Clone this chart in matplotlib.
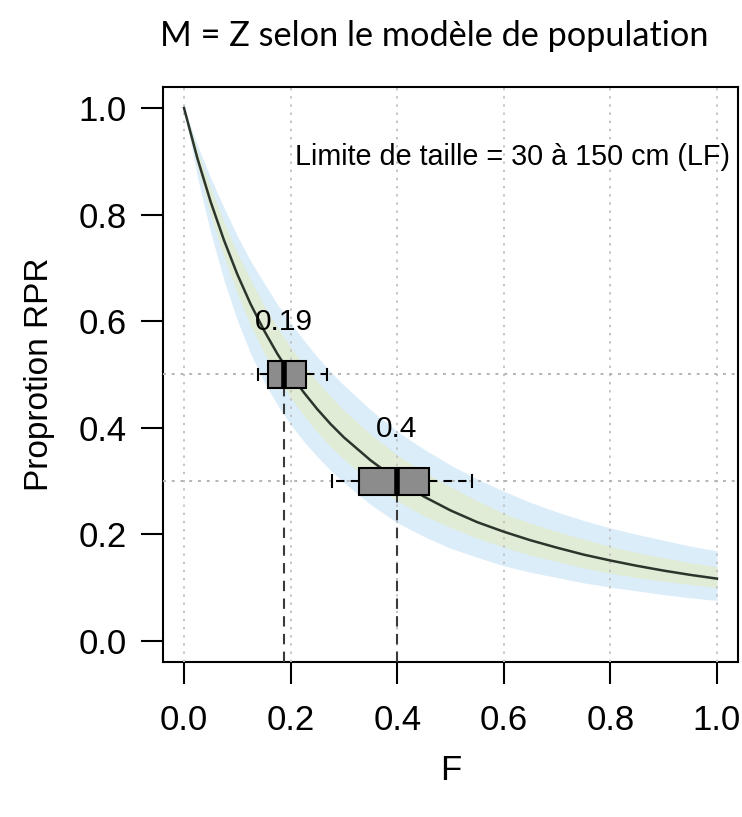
import numpy as np
import matplotlib
matplotlib.use("Agg")
import matplotlib.pyplot as plt

plt.rcParams['font.family'] = ['Liberation Sans', 'DejaVu Sans']

# values
f_vals = [0.000, 0.025, 0.050, 0.075, 0.100, 0.125, 0.150, 0.175, 0.200, 0.225,
          0.250, 0.275, 0.300, 0.35, 0.40, 0.45, 0.50, 0.55, 0.60, 0.65,
          0.70, 0.75, 0.80, 0.85, 0.90, 0.95, 1.00]
rpr_mid = [1.000, 0.906, 0.824, 0.752, 0.688, 0.632, 0.583, 0.539, 0.500, 0.466,
           0.435, 0.407, 0.382, 0.339, 0.302, 0.271, 0.245, 0.223, 0.205, 0.189,
           0.175, 0.162, 0.151, 0.141, 0.132, 0.124, 0.117]
blue_hi = [1.000, 0.931, 0.869, 0.813, 0.760, 0.713, 0.672, 0.632, 0.597, 0.564,
           0.533, 0.505, 0.480, 0.434, 0.393, 0.360, 0.330, 0.304, 0.281, 0.260,
           0.242, 0.226, 0.212, 0.200, 0.189, 0.178, 0.169]
blue_lo = [1.000, 0.871, 0.766, 0.677, 0.602, 0.539, 0.487, 0.443, 0.406, 0.374,
           0.346, 0.320, 0.297, 0.256, 0.222, 0.196, 0.174, 0.157, 0.141, 0.129,
           0.119, 0.109, 0.101, 0.094, 0.087, 0.081, 0.076]
green_hi = [1.000, 0.920, 0.850, 0.786, 0.728, 0.677, 0.630, 0.589, 0.551, 0.517,
            0.487, 0.459, 0.433, 0.388, 0.349, 0.317, 0.289, 0.263, 0.239, 0.221,
            0.205, 0.191, 0.177, 0.166, 0.156, 0.147, 0.139]
green_lo = [1.000, 0.891, 0.800, 0.721, 0.652, 0.592, 0.541, 0.496, 0.457, 0.423,
            0.392, 0.365, 0.341, 0.298, 0.263, 0.235, 0.213, 0.193, 0.176, 0.161,
            0.149, 0.137, 0.127, 0.119, 0.112, 0.106, 0.100]

# boxplots of F at the two target proportions
box_pos = [0.5, 0.3]
box_whislo = [0.139, 0.278]
box_q1 = [0.158, 0.329]
box_med = [0.188, 0.399]
box_q3 = [0.229, 0.460]
box_whishi = [0.268, 0.540]
box_labels = ["0.19", "0.4"]

ticks = [0.0, 0.2, 0.4, 0.6, 0.8, 1.0]
tick_labels = ["0.0", "0.2", "0.4", "0.6", "0.8", "1.0"]

fig = plt.figure(figsize=(7.42, 8.17), dpi=100)
ax = fig.add_axes([162.7 / 742, (817 - 662.3) / 817, 575.6 / 742, 575.6 / 817])

ax.fill_between(f_vals, blue_lo, blue_hi, color='#dcedfa', lw=0, zorder=1)
ax.fill_between(f_vals, green_lo, green_hi, color='#e0ecd5', lw=0, zorder=2)

for t in ticks:
    ax.axvline(t, color='#c4c4c4', lw=1.4, ls=(0, (1.2, 3)), zorder=3)
for p in box_pos:
    ax.axhline(p, color='#b4b4b4', lw=1.4, ls=(0, (1.5, 3)), zorder=3)

ax.plot(f_vals, rpr_mid, color='#2b352b', lw=1.8, zorder=4)

box_w = 0.051
stats = []
for i in range(len(box_pos)):
    stats.append(dict(med=box_med[i], q1=box_q1[i], q3=box_q3[i],
                      whislo=box_whislo[i], whishi=box_whishi[i]))
ax.bxp(stats, positions=box_pos, widths=box_w, orientation='horizontal',
       patch_artist=True, showfliers=False, capwidths=0.022, manage_ticks=False,
       boxprops=dict(facecolor='#8c8c8c', edgecolor='black', lw=1.5),
       whiskerprops=dict(color='black', lw=1.5, ls=(0, (4, 3))),
       capprops=dict(color='black', lw=1.5),
       medianprops=dict(color='black', lw=4, solid_capstyle='butt'),
       zorder=6)

for i in range(len(box_pos)):
    ax.vlines(box_med[i], -0.04, box_pos[i] - box_w / 2, color='#3a3a3a',
              lw=1.5, ls=(0, (5, 3.5)), zorder=5)
    ax.text(box_med[i], box_pos[i] + 0.098, box_labels[i], ha='center',
            va='center', fontsize=21.5, zorder=7)

ax.text(1.025, 0.908, "Limite de taille = 30 à 150 cm (LF)", ha='right',
        va='center', fontsize=20.7, zorder=7)

ax.set_xlim(-0.04, 1.04)
ax.set_ylim(-0.04, 1.04)
ax.set_xticks(ticks)
ax.set_xticklabels(tick_labels)
ax.set_yticks(ticks)
ax.set_yticklabels(tick_labels)
ax.tick_params(axis='both', labelsize=25, length=16, width=1.5, color='black')
ax.tick_params(axis='x', pad=14)
ax.tick_params(axis='y', pad=10)
for s in ax.spines.values():
    s.set_linewidth(1.5)

ax.set_xlabel("F", fontsize=25, labelpad=12)
ax.set_ylabel("Proprotion RPR", fontsize=24, labelpad=17)

fig.text(434 / 742, 1 - 36 / 817, "M = Z selon le modèle de population",
         ha='center', va='center', fontsize=24.7, family=['Lato', 'DejaVu Sans'])

fig.savefig("out.png", dpi=100)
